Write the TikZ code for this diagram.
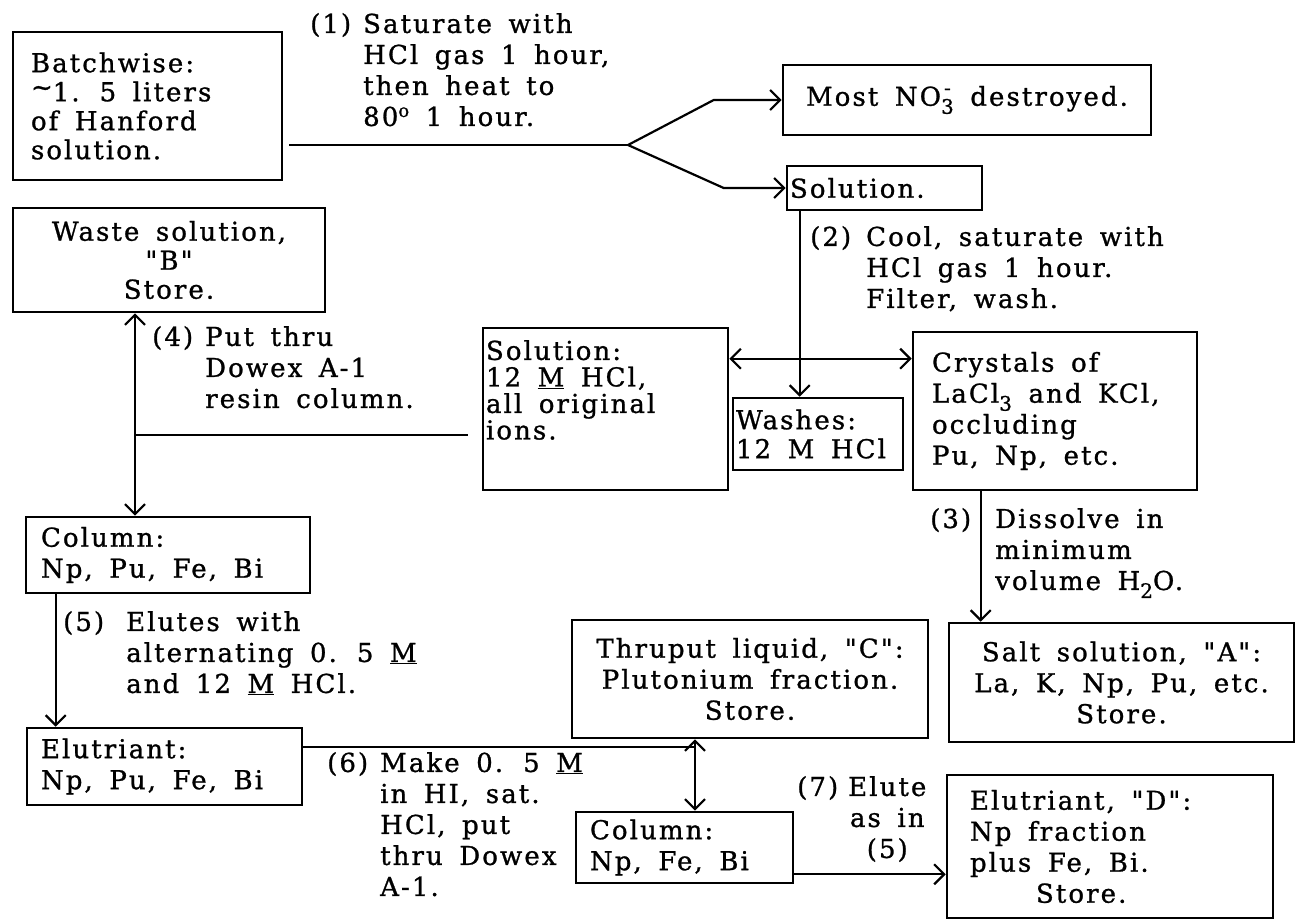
\documentclass[tikz,border=0pt]{standalone}
\usepackage{fontspec}
\setmainfont[LetterSpace=8,WordSpace=1.6,FakeBold=1,Ligatures=TeXOff]{DejaVu Serif}
\usetikzlibrary{arrows.meta}
% lowered / raised small figures (typewriter style)
\newcommand{\lowidx}[1]{\raisebox{-8pt}{\fontsize{20}{20}\selectfont #1}}
\newcommand{\hiidx}[1]{\raisebox{9pt}{\fontsize{18}{18}\selectfont #1}}
\newcommand{\nitrate}{NO\rlap{\hspace{3pt}\raisebox{11pt}{\fontsize{20}{20}\selectfont -}}\lowidx{3}}
\newcommand{\qt}[1]{"#1"}

\begin{document}
\begin{tikzpicture}[
  x=1pt, y=-1pt,
  font=\fontsize{26}{31}\selectfont,
  >={Straight Barb[length=10pt,width=20pt]},
  box/.style={draw,line width=2.6pt,inner ysep=3pt,
              execute at begin node={\spaceskip=0pt\relax\xspaceskip=0pt\relax}},
  lbox/.style={box,align=left,inner xsep=#1},
  lbox/.default=15pt,
  cbox/.style={box,align=center},
  note/.style={inner sep=0pt,anchor=north west,align=left,
               execute at begin node={\spaceskip=0pt\relax\xspaceskip=0pt\relax}},
  flow/.style={->,line width=2.2pt},
  wire/.style={line width=2.2pt},
]
\path[use as bounding box,fill=white] (0,0) rectangle (1296,922);

% ---------- boxes ----------
\node[lbox=18pt,text width=233pt,minimum height=148pt,font=\fontsize{26}{29}\selectfont] (batch) at (147.5,106)
  {Batchwise:\\\raisebox{5pt}{\textasciitilde}1. 5 liters\\of Hanford\\solution.};
\node[cbox,minimum width=368pt,minimum height=70pt] (most) at (967,100)
  {Most \nitrate{} destroyed.};
\node[lbox=3pt,text width=189pt,minimum height=44pt] (sol1) at (884.5,188) {Solution.};
\node[cbox,minimum width=312pt,minimum height=104pt,font=\fontsize{26}{29}\selectfont] (waste) at (169,260)
  {Waste solution,\\\qt{B}\\Store.};
\node[lbox=3pt,text width=239pt,minimum height=162pt,font=\fontsize{26}{26.5}\selectfont] (sol2) at (605.5,409)
  {Solution:\\12 \underline{M} HCl,\\all original\\ions.\\[12pt]\mbox{}};
\node[lbox=3pt,text width=164pt,minimum height=72pt,font=\fontsize{26}{29}\selectfont] (wash) at (818,434)
  {Washes:\\12 M HCl};
\node[lbox=19pt,text width=246pt,minimum height=158pt] (cryst) at (1055,411)
  {Crystals of\\LaCl\lowidx{3} and KCl,\\occluding\\Pu, Np, etc.};
\node[lbox=15pt,text width=254pt,minimum height=76pt] (col1) at (168,555)
  {Column:\\Np, Pu, Fe, Bi};
\node[lbox=14pt,text width=247pt,minimum height=77pt] (elu1) at (164.5,766.5)
  {Elutriant:\\Np, Pu, Fe, Bi};
\node[cbox,minimum width=356pt,minimum height=118pt] (thru) at (750,679)
  {Thruput liquid, \qt{C}:\\Plutonium fraction.\\Store.};
\node[cbox,minimum width=345pt,minimum height=119pt] (salt) at (1121.5,682.5)
  {Salt solution, \qt{A}:\\La, K, Np, Pu, etc.\\Store.};
\node[lbox=14pt,text width=189pt,minimum height=71pt] (col2) at (684.5,847.5)
  {Column:\\Np, Fe, Bi};
\node[lbox=23pt,text width=280pt,minimum height=143pt] (elud) at (1110,846.5)
  {Elutriant, \qt{D}:\\Np fraction\\plus Fe, Bi.\\\hspace*{66pt}Store.};

% ---------- step notes ----------
\node[note] (lab1) at (310,11) {\begin{tabular}{@{}p{53pt}@{}l@{}}
  (1)&Saturate with\\&HCl gas 1 hour,\\&then heat to\\&80\hiidx{o} 1 hour.\end{tabular}};
\node[note] (lab2) at (810,224) {\begin{tabular}{@{}p{56pt}@{}l@{}}
  (2)&Cool, saturate with\\&HCl gas 1 hour.\\&Filter, wash.\end{tabular}};
\node[note] (num3) at (930,508) {(3)};
\node[note] (lab3) at (995,508) {Dissolve in\\minimum\\volume H\lowidx{2}O.};
\node[note] (lab4) at (152,324) {\begin{tabular}{@{}p{53pt}@{}l@{}}
  (4)&Put thru\\&Dowex A-1\\&resin column.\end{tabular}};
\node[note] (lab5) at (63,609) {\begin{tabular}{@{}p{63pt}@{}l@{}}
  (5)&Elutes with\\&alternating 0. 5 \underline{M}\\&and 12 \underline{M} HCl.\end{tabular}};
\node[note] (lab6) at (327,750) {\begin{tabular}{@{}p{53pt}@{}l@{}}
  (6)&Make 0. 5 \underline{M}\\&in HI, sat.\\&HCl, put\\&thru Dowex\\&A-1.\end{tabular}};
\node[note] (lab7) at (797,774) {\begin{tabular}{@{}l@{\hspace{10pt}}c@{}}
  (7)&Elute\\&as in\\&(5)\end{tabular}};

% ---------- connectors ----------
\coordinate (split) at (628,145);
\coordinate (j4) at (135,435);
\coordinate (j6) at (695,747);
\draw[wire,shorten <=6pt] (batch.east |- split) -- (split);
\draw[flow] (split) -- ([xshift=-68pt]most.west) -- (most.west);
\draw[flow] (split) -- ([xshift=-62pt]sol1.west) -- (sol1.west);
\draw[flow] ([xshift=14pt]sol1.south west) -- ([xshift=14pt]sol1.south west |- wash.north);
\draw[flow,<->] ([yshift=-32pt]sol2.north east) -- ([yshift=-32pt]sol2.north east -| cryst.west);
\draw[flow] ([xshift=69pt]cryst.south west) -- ([xshift=69pt]cryst.south west |- salt.north);
\draw[flow,<->] (waste.south -| j4) -- (col1.north -| j4);
\draw[wire,shorten >=14pt] (j4) -- (sol2.west |- j4);
\draw[flow] ([xshift=31pt]col1.south west) -- ([xshift=31pt]col1.south west |- elu1.north);
\draw[wire] (elu1.east |- j6) -- (j6);
\draw[flow,<->] (thru.south -| j6) -- (col2.north -| j6);
\draw[flow] ([yshift=10pt]col2.south east) -- ([yshift=10pt]col2.south east -| elud.west);
\end{tikzpicture}
\end{document}
